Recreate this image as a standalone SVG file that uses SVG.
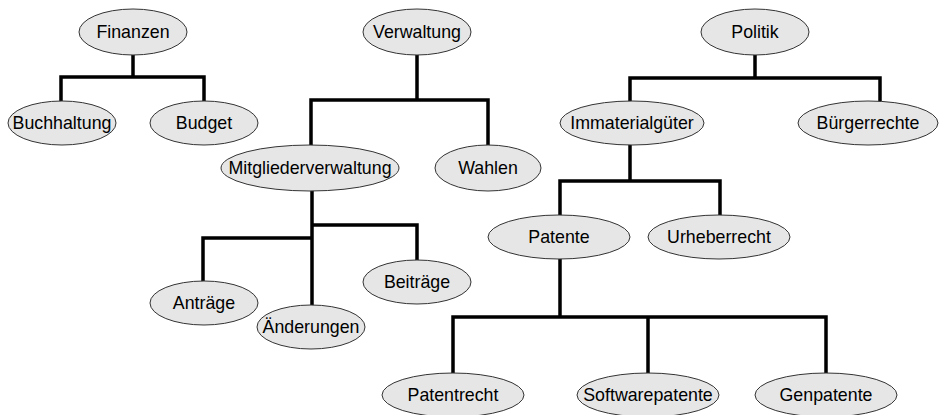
<svg xmlns="http://www.w3.org/2000/svg" width="939" height="415" viewBox="0 0 939 415">
<style>
.n ellipse{fill:#e6e6e6;stroke:#333;stroke-width:1}
.n text{font-family:"Liberation Sans",Arial,sans-serif;font-size:17.8px;fill:#000;text-anchor:middle}
#edges path{fill:none;stroke:#000;stroke-width:3.5;stroke-linejoin:miter;stroke-linecap:square}
</style>
<rect width="939" height="415" fill="#fff"/>
<g id="edges">
<path d="M133,55 V77 M61,77 H204 M61,77 V100 M204,77 V100"/>
<path d="M417,55 V100 M311,100 H488 M311,100 V145 M488,100 V145"/>
<path d="M312,191 V305 M312,225 H417 V260 M312,238 H203 V282"/>
<path d="M755,55 V78 M630,78 H880 M630,78 V100 M880,78 V100"/>
<path d="M630,145 V181 M560,181 H720 M560,181 V215 M720,181 V215"/>
<path d="M560,259 V317 M453,317 H826 M453,317 V373 M648,317 V373 M826,317 V373"/>
</g>
<g id="finanzen" class="n"><ellipse cx="133" cy="32" rx="54" ry="23"/><text x="133" y="38">Finanzen</text></g>
<g id="buchhaltung" class="n"><ellipse cx="62" cy="123" rx="54" ry="22"/><text x="62" y="129">Buchhaltung</text></g>
<g id="budget" class="n"><ellipse cx="204" cy="123" rx="54" ry="22"/><text x="204" y="129">Budget</text></g>
<g id="verwaltung" class="n"><ellipse cx="417" cy="32" rx="54" ry="23"/><text x="417" y="38">Verwaltung</text></g>
<g id="mitgliederverwaltung" class="n"><ellipse cx="310" cy="168" rx="89" ry="23"/><text x="310" y="174">Mitgliederverwaltung</text></g>
<g id="wahlen" class="n"><ellipse cx="488" cy="168" rx="53" ry="23"/><text x="488" y="174">Wahlen</text></g>
<g id="antraege" class="n"><ellipse cx="204" cy="303" rx="54" ry="22"/><text x="204" y="309">Anträge</text></g>
<g id="aenderungen" class="n"><ellipse cx="311" cy="327" rx="54" ry="22"/><text x="311" y="333">Änderungen</text></g>
<g id="beitraege" class="n"><ellipse cx="417" cy="282" rx="54" ry="22"/><text x="417" y="288">Beiträge</text></g>
<g id="politik" class="n"><ellipse cx="755" cy="32" rx="54" ry="23"/><text x="755" y="38">Politik</text></g>
<g id="immaterialgueter" class="n"><ellipse cx="632" cy="123" rx="72" ry="22"/><text x="632" y="129">Immaterialgüter</text></g>
<g id="buergerrechte" class="n"><ellipse cx="868" cy="123" rx="70" ry="22"/><text x="868" y="129">Bürgerrechte</text></g>
<g id="patente" class="n"><ellipse cx="559" cy="237" rx="71" ry="22"/><text x="559" y="243">Patente</text></g>
<g id="urheberrecht" class="n"><ellipse cx="719" cy="237" rx="71" ry="22"/><text x="719" y="243">Urheberrecht</text></g>
<g id="patentrecht" class="n"><ellipse cx="453" cy="395" rx="71" ry="22"/><text x="453" y="401">Patentrecht</text></g>
<g id="softwarepatente" class="n"><ellipse cx="648" cy="395" rx="71" ry="22"/><text x="648" y="401">Softwarepatente</text></g>
<g id="genpatente" class="n"><ellipse cx="826" cy="395" rx="71" ry="22"/><text x="826" y="401">Genpatente</text></g>
</svg>
